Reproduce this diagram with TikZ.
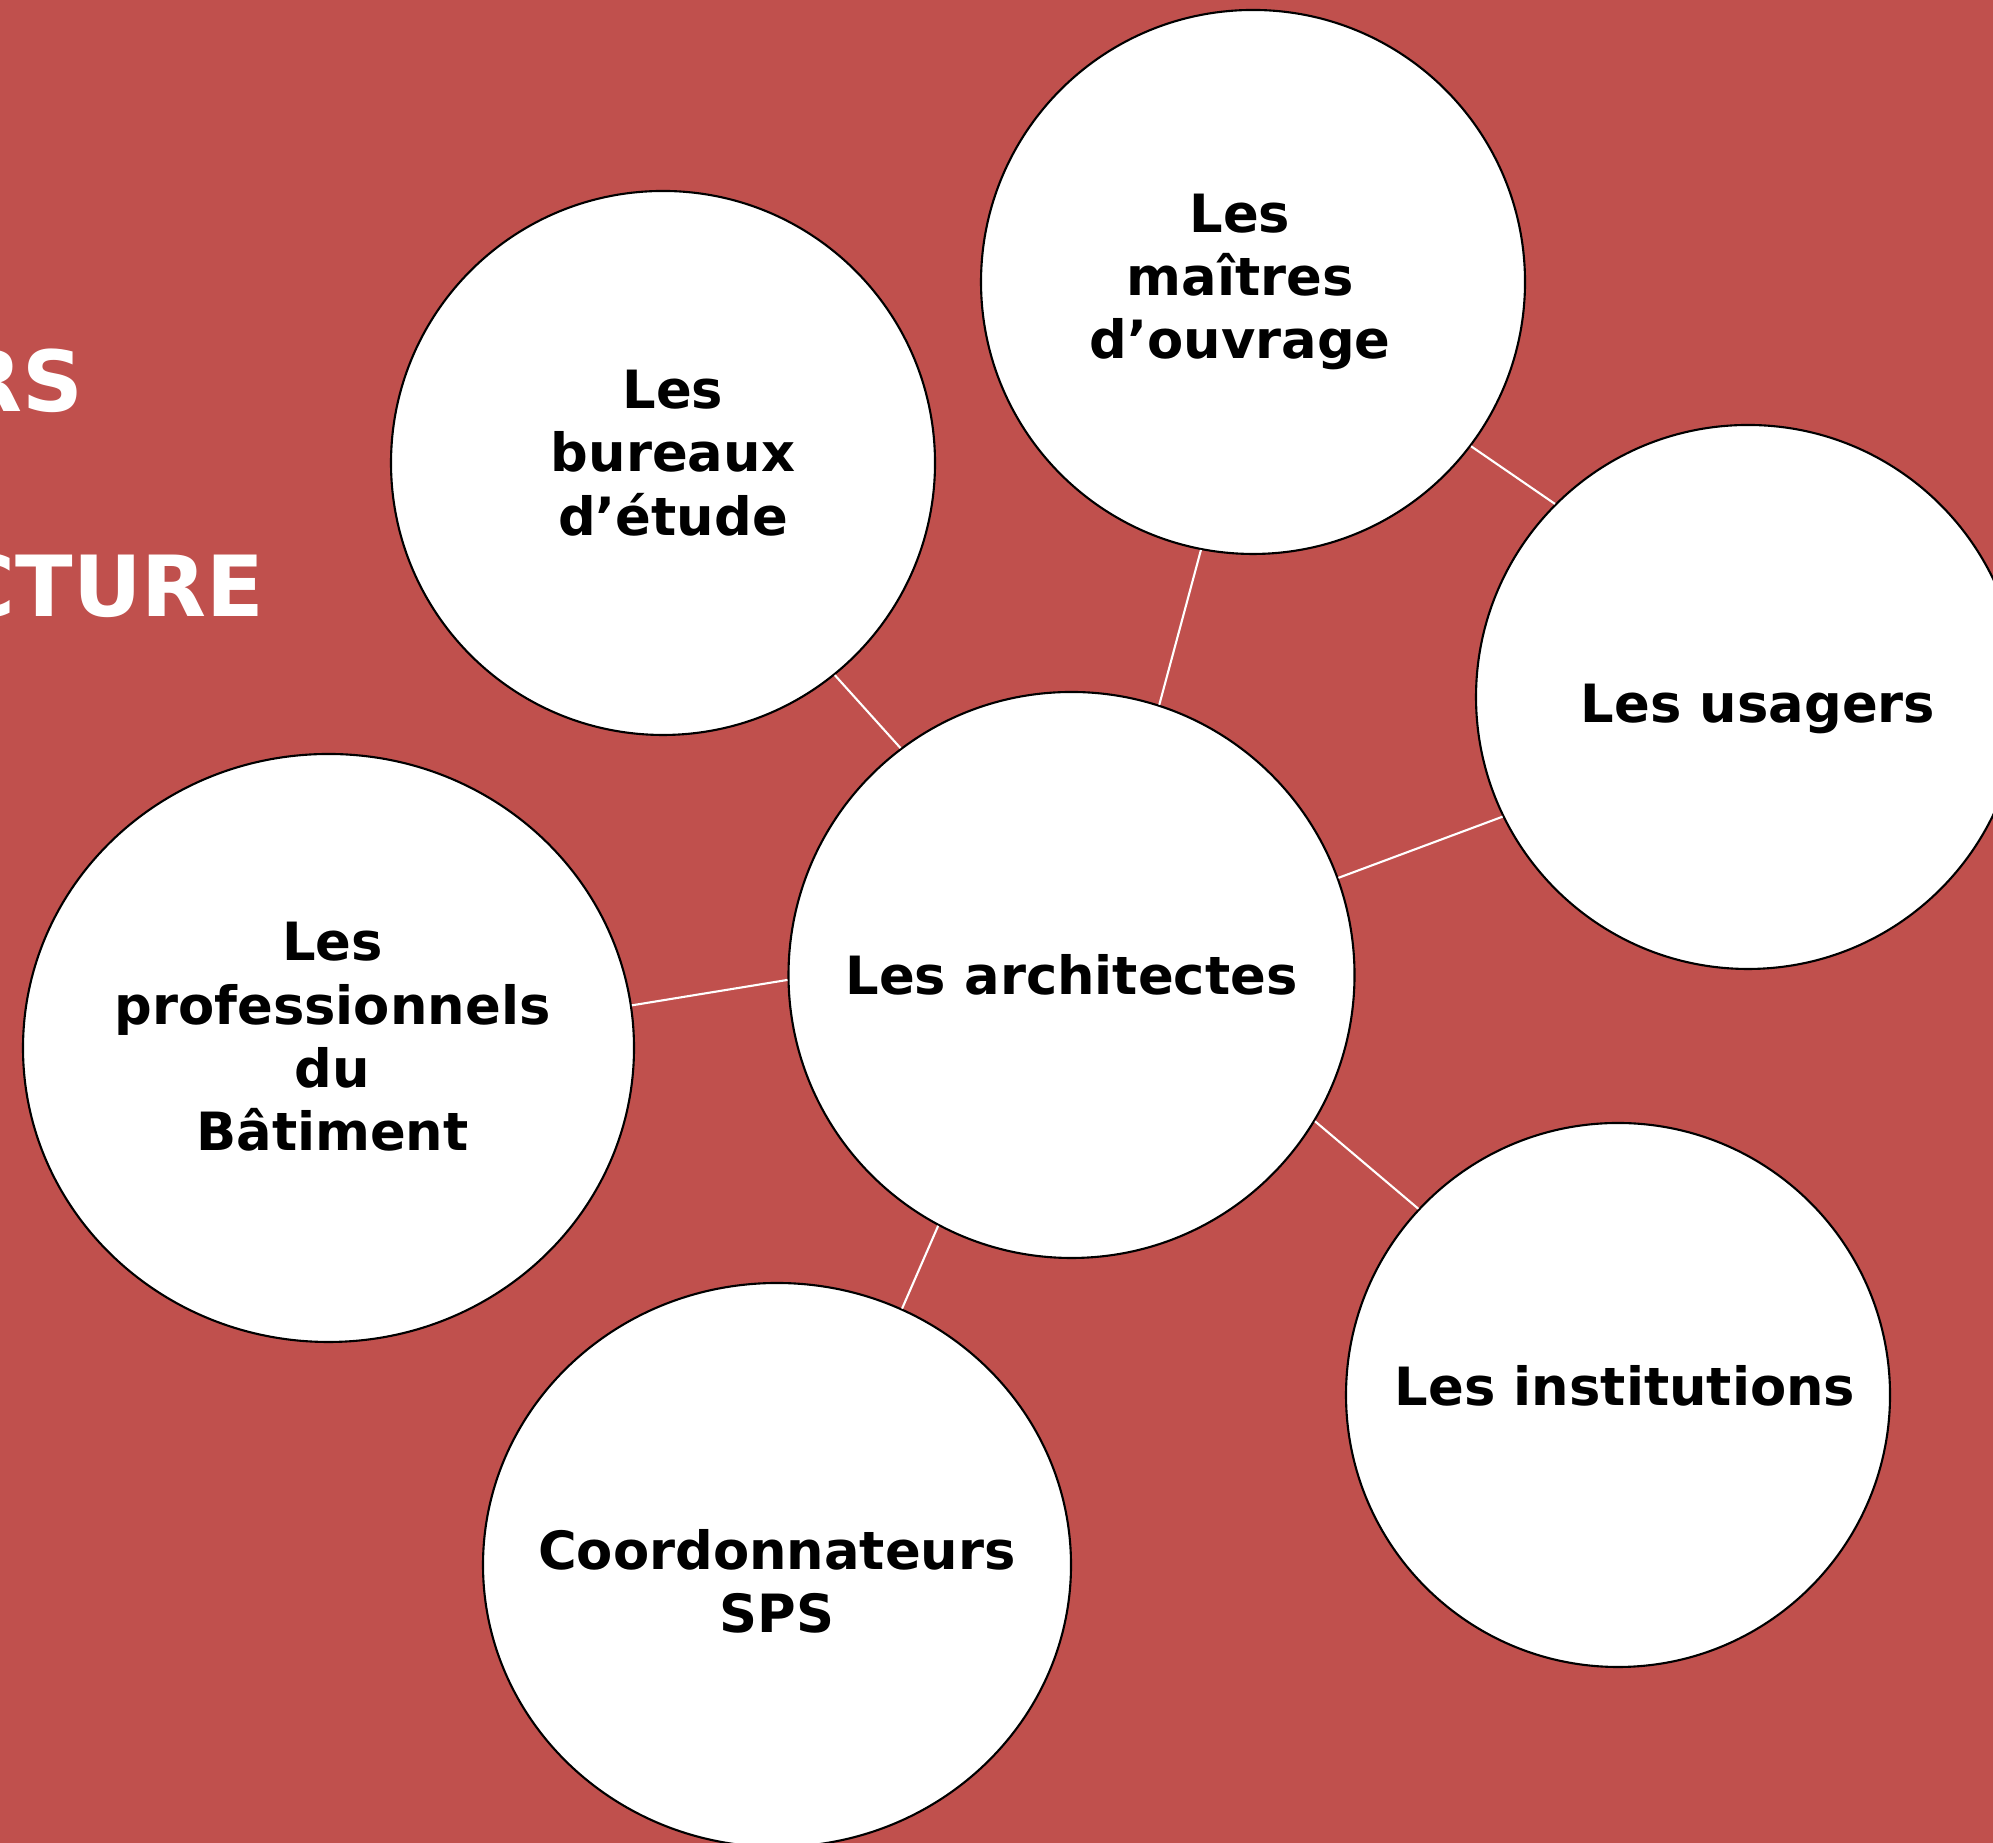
\documentclass[tikz,border=0pt]{standalone}
\usepackage{fontspec}
\setmainfont{DejaVu Sans}
\definecolor{bgred}{HTML}{C0504D}
\usetikzlibrary{shapes.geometric}

\begin{document}
\begin{tikzpicture}[
  ac/.style={circle,draw=black,line width=0.6pt,fill=white,inner sep=0pt},
  ae/.style={ellipse,draw=black,line width=0.6pt,fill=white,inner sep=0pt},
  txt/.style={align=center,inner sep=0pt,font=\fontsize{15}{18}\selectfont\bfseries},
  lien/.style={draw=white,line width=0.6pt},
  titre/.style={anchor=base east,inner sep=0pt,text=white,font=\fontsize{24}{28}\selectfont\bfseries}]
  \fill[bgred] (0,0) rectangle (19.93,18.43);
  \useasboundingbox (0,0) rectangle (19.93,18.43);
  \node[titre] (t1) at (0.84,14.31) {RS};
  \node[titre] (t2) at (2.65,12.26) {CTURE};
  % acteurs
  \node[ac,minimum size=5.66cm,label={[txt]center:Les architectes}] (archi) at (10.715,8.68) {};
  \node[ac,minimum size=5.44cm,label={[txt,xshift=0.10cm,yshift=0.10cm]center:Les\\bureaux\\d’étude}]
    (bureaux) at (6.63,13.80) {};
  \node[ac,minimum size=5.44cm,label={[txt,xshift=-0.13cm]center:Les\\maîtres\\d’ouvrage}]
    (maitres) at (12.53,15.61) {};
  \node[ac,minimum size=5.44cm,label={[txt,xshift=0.10cm,yshift=-0.12cm]center:Les usagers}]
    (usagers) at (17.48,11.46) {};
  \node[ae,minimum width=6.11cm,minimum height=5.88cm,
    label={[txt,xshift=0.04cm,yshift=0.11cm]center:Les\\professionnels\\du\\Bâtiment}]
    (pros) at (3.285,7.95) {};
  \node[ae,minimum width=5.88cm,minimum height=5.64cm,
    label={[txt,yshift=-0.16cm]center:Coordonnateurs\\SPS}] (sps) at (7.77,2.78) {};
  \node[ac,minimum size=5.44cm,label={[txt,xshift=0.07cm,yshift=0.09cm]center:Les institutions}]
    (inst) at (16.18,4.48) {};
  % liens
  \draw[lien] (archi.127.5) -- (bureaux.-51.3);
  \draw[lien] (archi.72.5) -- (maitres.259.5);
  \draw[lien] (archi.20.7) -- (usagers.206.1);
  \draw[lien] (maitres.-37.2) -- (usagers.135.8);
  \draw[lien] (archi.181.5) -- (pros.8.3);
  \draw[lien] (archi.242.5) -- (sps.64.5);
  \draw[lien] (archi.-31.9) -- (inst.137.4);
\end{tikzpicture}
\end{document}
